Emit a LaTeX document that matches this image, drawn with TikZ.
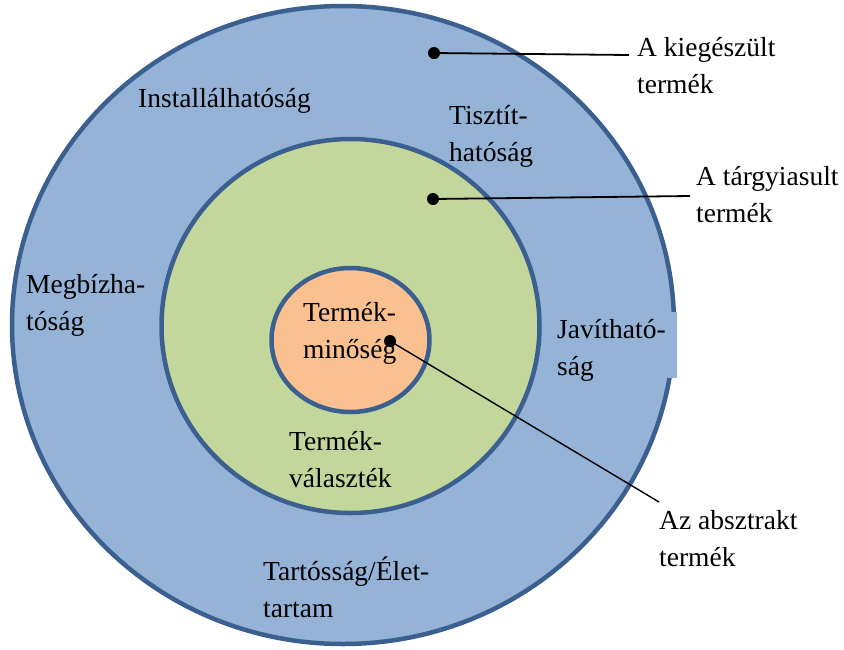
\documentclass[tikz,border=0pt]{standalone}
\usepackage{fontspec}
\setmainfont{Liberation Serif}
\definecolor{outerfill}{HTML}{95B3D7}
\definecolor{midfill}{HTML}{C3D69B}
\definecolor{innerfill}{HTML}{FAC090}
\definecolor{ringline}{HTML}{3B6090}
\newcommand{\lblines}[2]{\begin{tabular}[t]{@{}l@{}}#1\\#2\end{tabular}}
\begin{document}
\begin{tikzpicture}[x=1pt,y=-1pt,
  ring/.style={draw=ringline, line width=4.5pt},
  lbl/.style={anchor=base west, inner sep=0pt, font=\rmfamily\fontsize{27.5}{37}\selectfont},
  dotmark/.style={fill=black},
  leader/.style={draw=black, line width=1.8pt}]
\useasboundingbox (0,0) rectangle (844,649);
% rings
\draw[ring, fill=outerfill] (343,325) ellipse [x radius=331, y radius=319];
\fill[outerfill] (650,312) rectangle (677,378);
\draw[ring, fill=midfill] (350.5,326) ellipse [x radius=189, y radius=187];
\draw[ring, fill=innerfill] (350.5,340) ellipse [x radius=79, y radius=72];
% labels
\node[lbl] (install) at (138,107) {Installálhatóság};
\node[lbl] (tisztit) at (449,124) {\lblines{Tisztít-}{hatóság}};
\node[lbl] (megbiz) at (26,293) {\lblines{Megbízha-}{tóság}};
\node[lbl] (minoseg) at (303,321) {\lblines{Termék-}{minőség}};
\node[lbl] (javit) at (557,338) {\lblines{Javítható-}{ság}};
\node[lbl] (valaszt) at (289,450) {\lblines{Termék-}{választék}};
\node[lbl] (tartos) at (263,580) {\lblines{Tartósság/Élet-}{tartam}};
\node[lbl] (kieg) at (637,56) {\lblines{A kiegészült}{termék}};
\node[lbl] (targy) at (696,185) {\lblines{A tárgyiasult}{termék}};
\node[lbl] (abszt) at (659,529) {\lblines{Az absztrakt}{termék}};
% leaders
\coordinate (d1) at (434,53);
\coordinate (e1) at (629,55);
\coordinate (d2) at (433,199);
\coordinate (e2) at (690,196);
\coordinate (d3) at (390,341);
\coordinate (e3) at (659,502);
\draw[leader] (d1) -- (e1);
\draw[leader] (d2) -- (e2);
\draw[leader, line width=1.4pt] (d3) -- (e3);
\fill[dotmark] (d1) circle [radius=6];
\fill[dotmark] (d2) circle [radius=6];
\fill[dotmark] (d3) circle [radius=6];
\end{tikzpicture}
\end{document}
